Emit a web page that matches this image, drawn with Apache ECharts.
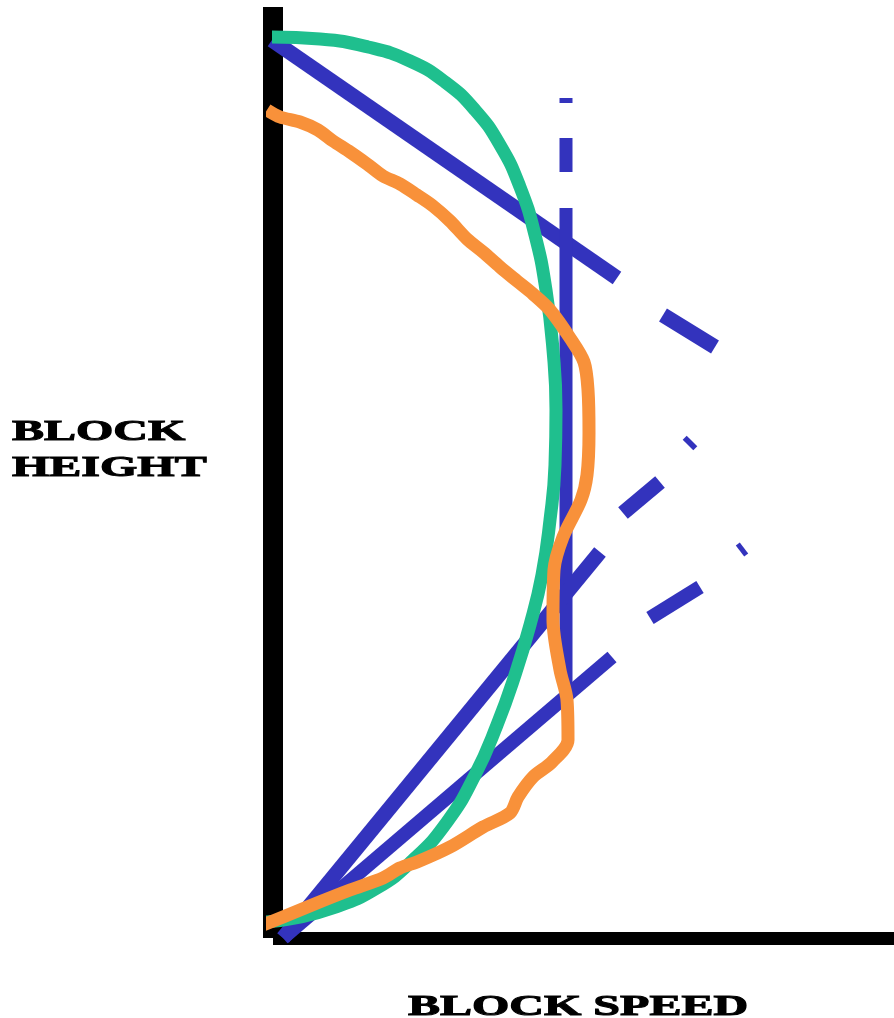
<!DOCTYPE html>
<html>
<head>
<meta charset="utf-8">
<script src="https://cdn.jsdelivr.net/npm/echarts@6/dist/echarts.min.js"></script>
<style>
  html, body { margin: 0; padding: 0; background: #fff; }
  #main { width: 894px; height: 1018px; }
</style>
</head>
<body>
<div id="main"></div>
<script>
// speed (x) and height (y) in arbitrary units
const greenCurve = [
  [-0.1, 90.1], [4.7, 89.9], [9.5, 89.1], [13.7, 87.7], [17.2, 85.6], [20.2, 82.8],
  [22.7, 79.3], [24.7, 75.1], [26.2, 70.3], [27.3, 64.8], [28.0, 58.8], [28.3, 52.8],
  [28.2, 47.3], [27.7, 41.8], [26.9, 36.3], [25.7, 31.3], [24.2, 26.3], [22.4, 21.3],
  [20.2, 16.3], [17.4, 11.6], [14.0, 7.8], [10.4, 5.0], [6.0, 3.0], [1.7, 1.9], [-0.7, 1.6]
];

const orangeCurve = [
  [-0.6, 82.8], [0.7, 82.1], [2.7, 81.6], [4.5, 80.8], [6.0, 79.7], [7.7, 78.6],
  [9.4, 77.4], [11.0, 76.2], [12.7, 75.4], [14.4, 74.3], [16.0, 73.2], [17.7, 71.7],
  [19.4, 69.9], [21.0, 68.6], [22.7, 67.1], [24.4, 65.7], [26.0, 64.4], [27.7, 62.8],
  [29.7, 60.0], [31.1, 57.6], [31.5, 54.8], [31.6, 50.5], [31.4, 46.3], [30.8, 43.8],
  [29.0, 40.1], [28.1, 36.8], [28.0, 31.8], [28.7, 26.8], [29.4, 23.8], [29.5, 19.8],
  [27.9, 17.6], [26.0, 16.1], [24.5, 14.1], [23.7, 12.5], [21.0, 11.1], [17.7, 9.1],
  [14.4, 7.6], [12.7, 7.0], [11.0, 6.0], [7.7, 4.8], [4.4, 3.5], [1.0, 2.1], [-1.0, 1.3]
];

// blue straight lines, each split into the pieces that are actually drawn
const blueTop = [
  [[-0.1, 89.8], [34.4, 66.0]],
  [[39.0, 62.3], [44.2, 59.1]]
];
const blueVertical = [
  [[29.3, 73.0], [29.3, 24.8]],
  [[29.3, 80.0], [29.3, 76.6]],
  [[29.3, 84.0], [29.3, 83.5]]
];
const blueSteep = [
  [[1.0, 0.0], [32.7, 38.6]],
  [[35.0, 42.5], [38.7, 45.6]],
  [[41.5, 49.3], [41.9, 49.7]]
];
const blueShallow = [
  [[1.0, 0.0], [33.9, 28.1]],
  [[37.7, 32.0], [42.7, 35.1]],
  [[46.7, 38.7], [47.1, 39.0]]
];

const BLUE = '#3333bd';
const GREEN = '#1fbf8e';
const ORANGE = '#f8913a';

function bluePieces(pieces, width) {
  return pieces.map((seg) => ({
    type: 'line',
    data: seg,
    symbol: 'none',
    clip: false,
    silent: true,
    z: 2,
    lineStyle: { color: BLUE, width: width, cap: 'butt' }
  }));
}

const series = [
  ...bluePieces(blueTop, 15),
  ...bluePieces(blueVertical, 13),
  ...bluePieces(blueSteep, 15),
  ...bluePieces(blueShallow, 14),
  {
    type: 'line',
    data: greenCurve,
    smooth: 0.5,
    symbol: 'none',
    clip: false,
    z: 3,
    lineStyle: { color: GREEN, width: 13 }
  },
  {
    type: 'line',
    data: orangeCurve,
    smooth: 0.3,
    symbol: 'none',
    clip: false,
    z: 4,
    lineStyle: { color: ORANGE, width: 13, join: 'round' }
  }
];

const labelFont = 'bold 30px "Liberation Serif", "DejaVu Serif", serif';
const labelStyle = { font: labelFont, fill: '#000', stroke: '#000', lineWidth: 1, align: 'left', verticalAlign: 'middle' };

const chart = echarts.init(document.getElementById('main'), null, { renderer: 'canvas' });
chart.setOption({
  backgroundColor: '#ffffff',
  animation: false,
  grid: { left: 273, right: 0, top: 7, bottom: 80 },
  xAxis: {
    type: 'value',
    min: 0,
    max: 62.1,
    axisLine: { show: true, lineStyle: { color: '#000', width: 13, cap: 'butt' } },
    axisTick: { show: false },
    axisLabel: { show: false },
    splitLine: { show: false }
  },
  yAxis: {
    type: 'value',
    min: 0,
    max: 93.1,
    axisLine: { show: true, lineStyle: { color: '#000', width: 20, cap: 'butt' } },
    axisTick: { show: false },
    axisLabel: { show: false },
    splitLine: { show: false }
  },
  graphic: [
    { type: 'text', x: 12, y: 432, scaleX: 1.6, style: Object.assign({ text: 'BLOCK' }, labelStyle) },
    { type: 'text', x: 12, y: 468, scaleX: 1.6, style: Object.assign({ text: 'HEIGHT' }, labelStyle) },
    { type: 'text', x: 408, y: 1007, scaleX: 1.6, style: Object.assign({ text: 'BLOCK SPEED' }, labelStyle) }
  ],
  series: series
});
</script>
</body>
</html>
